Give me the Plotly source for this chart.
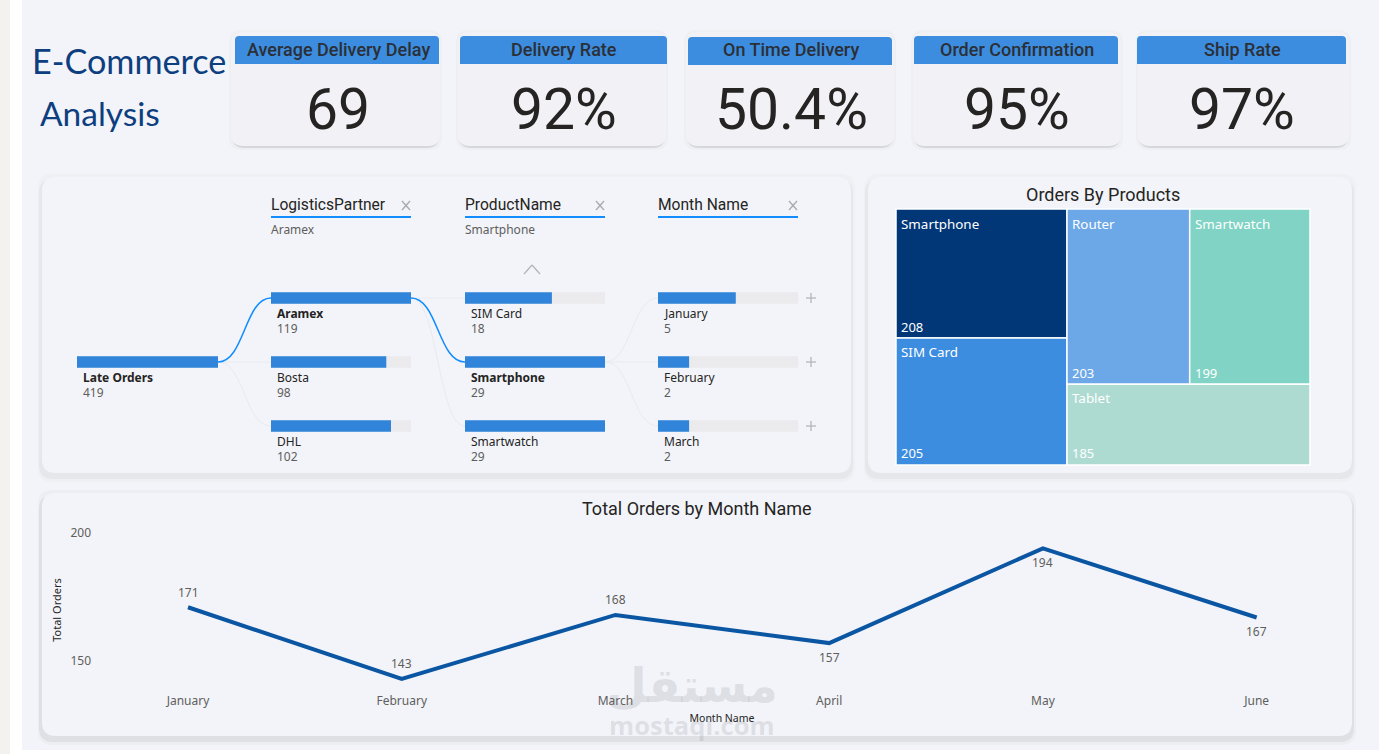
import plotly.graph_objects as go

W, H = 1384, 754

# ---------- data ----------
kpi_titles = ["Average Delivery Delay", "Delivery Rate", "On Time Delivery", "Order Confirmation", "Ship Rate"]
kpi_values = ["69", "92%", "50.4%", "95%", "97%"]

root_label = ["Late Orders"]
root_value = [419]
partner_labels = ["Aramex", "Bosta", "DHL"]
partner_values = [119, 98, 102]
product_labels = ["SIM Card", "Smartphone", "Smartwatch"]
product_values = [18, 29, 29]
month_labels = ["January", "February", "March"]
month_values = [5, 2, 2]
month_scale_max = 9

tree_labels = ["Smartphone", "SIM Card", "Router", "Smartwatch", "Tablet"]
tree_values = [208, 205, 203, 199, 185]
tree_colors = ["#023777", "#3c8ddf", "#6ca8e8", "#81d3c5", "#aedbd1"]

line_months = ["January", "February", "March", "April", "May", "June"]
line_orders = [171, 143, 168, 157, 194, 167]
line_label_side = [1, 1, 1, -1, -1, -1]

# ---------- helpers ----------
DIN = "Roboto"
SEGOE = "Noto Sans"
BLUE = "#3084d9"
TRACK = "#ebebee"
LINK_ON = "#118dff"
LINK_OFF = "#e9eaee"


def px(x):
    return x / W


def py(y):
    return 1 - y / H


def xdom(a, b):
    return [px(a), px(b)]


def ydom(top, bottom):
    return [py(bottom), py(top)]


def rrect(x0, y0, x1, y1, r, fill, bottom_round=True):
    rb = r if bottom_round else 0
    d = (f"M{px(x0 + r)},{py(y0)} L{px(x1 - r)},{py(y0)} Q{px(x1)},{py(y0)} {px(x1)},{py(y0 + r)} "
         f"L{px(x1)},{py(y1 - rb)} Q{px(x1)},{py(y1)} {px(x1 - rb)},{py(y1)} "
         f"L{px(x0 + rb)},{py(y1)} Q{px(x0)},{py(y1)} {px(x0)},{py(y1 - rb)} "
         f"L{px(x0)},{py(y0 + r)} Q{px(x0)},{py(y0)} {px(x0 + r)},{py(y0)} Z")
    return dict(type="path", xref="paper", yref="paper", path=d, fillcolor=fill,
                line=dict(width=0), layer="below")


def rect(x0, y0, x1, y1, fill):
    return dict(type="rect", xref="paper", yref="paper", x0=px(x0), x1=px(x1), y0=py(y0), y1=py(y1),
                fillcolor=fill, line=dict(width=0), layer="below")


def segment(x0, y0, x1, y1, color, width):
    return dict(type="line", xref="paper", yref="paper", x0=px(x0), x1=px(x1), y0=py(y0), y1=py(y1),
                line=dict(color=color, width=width), layer="below")


def curve(x0, y0, x1, y1, color, width):
    xm = (x0 + x1) / 2
    d = f"M{px(x0)},{py(y0)} C{px(xm)},{py(y0)} {px(xm)},{py(y1)} {px(x1)},{py(y1)}"
    return dict(type="path", xref="paper", yref="paper", path=d, line=dict(color=color, width=width), layer="below")


def note(x, y, text, size, color, family=SEGOE, xanchor="center", yanchor="middle", weight=None, **kw):
    font = dict(size=size, color=color, family=family)
    if weight:
        font["weight"] = weight
    return dict(xref="paper", yref="paper", x=px(x), y=py(y), text=text, showarrow=False, font=font,
                xanchor=xanchor, yanchor=yanchor, borderpad=0, **kw)


shapes = []
annotations = []

# ---------- page chrome ----------
shapes.append(rect(0, 0, W, H, "#ffffff"))
shapes.append(rect(0, 0, 10, H, "#f4f2ee"))
shapes.append(rect(22, 0, 1379, 750, "#f3f4f9"))

# ---------- title ----------
annotations.append(note(31, 61, "E-Commerce", 34.2, "#0d3f80", family="Lato", xanchor="left"))
annotations.append(note(39, 113, "Analysis", 33.5, "#0d3f80", family="Lato", xanchor="left"))

# ---------- KPI cards ----------
card_boxes = [(231, 440, 235, 439, 36, 338), (458, 666, 460, 667, 36, 564), (686, 894, 688, 892, 37, 791),
              (913, 1121, 914, 1118, 36, 1017), (1138, 1349, 1137, 1346, 36, 1242)]
for (cx0, cx1, hx0, hx1, hy, cc), ttl, val in zip(card_boxes, kpi_titles, kpi_values):
    shapes.append(rrect(cx0 - 2, 30, cx1 + 2, 150, 13, "#eeeff3"))
    shapes.append(rrect(cx0 + 1, 36, cx1 - 1, 148, 12, "#d6d7da"))
    shapes.append(rrect(cx0, 32, cx1, 146, 12, "#f1f1f6"))
    shapes.append(rrect(hx0, hy, hx1, hy + 28, 4, "#3c8ddf", bottom_round=False))
    annotations.append(note(cc, hy + 13, ttl, 18, "#2b2f36", family=DIN, weight=500))
    annotations.append(note(cc, 109, val, 57, "#252423", family=DIN, weight=400))

# ---------- panels ----------
for x0, y0, x1, y1, soft, hard in [(42, 177, 851, 473, "#eef0f3", "#e6e7eb"),
                                   (868, 177, 1352, 473, "#eef0f3", "#e6e7eb"),
                                   (42, 493, 1352, 736, "#eceef1", "#dfe0e4")]:
    shapes.append(rrect(x0 - 4, y0 - 3, x1 + 4, y1 + 9, 15, soft))
    shapes.append(rrect(x0 - 3, y0 + 2, x1 + 2, y1 + 6, 14, hard))
    shapes.append(rrect(x0, y0, x1, y1, 14, "#f2f4f9"))

# ---------- decomposition tree ----------
columns = [
    (77, 218, root_label, root_value, max(root_value), (330, 394)),
    (271, 411, partner_labels, partner_values, max(partner_values), (266, 458)),
    (465, 605, product_labels, product_values, max(product_values), (266, 458)),
    (658, 798, month_labels, month_values, month_scale_max, (266, 458)),
]
selected = {"Late Orders", "Aramex", "Smartphone"}

fig = go.Figure()
axis_off = dict(visible=False, fixedrange=True, showgrid=False, zeroline=False, automargin=False)
layout_axes = {}
for i, (x0, x1, labels, values, vmax, (t, b)) in enumerate(columns, start=1):
    xa = "x" if i == 1 else f"x{i}"
    ya = "y" if i == 1 else f"y{i}"
    xkey = "xaxis" if i == 1 else f"xaxis{i}"
    ykey = "yaxis" if i == 1 else f"yaxis{i}"
    layout_axes[xkey] = dict(axis_off, domain=xdom(x0, x1), range=[0, vmax], anchor=ya)
    layout_axes[ykey] = dict(axis_off, domain=ydom(t, b), type="category", categoryorder="array",
                             categoryarray=labels, range=[len(labels) - 0.5, -0.5], anchor=xa)
    band = b - t
    w = 11.5 / (band / len(labels))
    fig.add_trace(go.Bar(y=labels, x=[vmax] * len(labels), orientation="h", xaxis=xa, yaxis=ya, width=w,
                         marker=dict(color=TRACK, line=dict(width=0)), hoverinfo="skip", showlegend=False))
    fig.add_trace(go.Bar(y=labels, x=values, orientation="h", xaxis=xa, yaxis=ya, width=w,
                         marker=dict(color=BLUE, line=dict(width=0)), hoverinfo="skip", showlegend=False))
    for lab, val in zip(labels, values):
        bold = lab in selected
        annotations.append(dict(xref=xa, yref=ya, x=0, y=lab, text=f"<b>{lab}</b>" if bold else lab,
                                showarrow=False, xanchor="left", yanchor="middle", xshift=4, yshift=-15,
                                font=dict(size=12, color="#252423", family=SEGOE)))
        annotations.append(dict(xref=xa, yref=ya, x=0, y=lab, text=str(val), showarrow=False,
                                xanchor="left", yanchor="middle", xshift=4, yshift=-30,
                                font=dict(size=12, color="#605e5c", family=SEGOE)))

# connectors
rows = [298, 362, 426]
for y in rows:
    shapes.append(curve(218, 362, 271, y, LINK_OFF, 1))
    shapes.append(curve(411, 298, 465, y, LINK_OFF, 1))
    shapes.append(curve(605, 362, 658, y, LINK_OFF, 1))
shapes.append(curve(218, 362, 271, 298, LINK_ON, 1.5))
shapes.append(curve(411, 298, 465, 362, LINK_ON, 1.5))

# column headers
for (x0, x1, sub), name in zip([(271, 411, "Aramex"), (465, 605, "Smartphone"), (658, 798, "")],
                               ["LogisticsPartner", "ProductName", "Month Name"]):
    annotations.append(note(x0 - 1, 205, name, 15.6, "#252423", family=DIN, xanchor="left", weight=400))
    shapes.append(dict(type="line", xref="paper", yref="paper", x0=px(x0), x1=px(x1), y0=py(217), y1=py(217),
                       line=dict(color=LINK_ON, width=2)))
    shapes.append(segment(x1 - 9, 201, x1 - 1, 210, "#a9a9ad", 1.3))
    shapes.append(segment(x1 - 9, 210, x1 - 1, 201, "#a9a9ad", 1.3))
    if sub:
        annotations.append(note(x0 - 1, 229, sub, 12, "#605e5c", xanchor="left"))
# chevron and expand marks
shapes.append(segment(524, 274, 532, 265, "#b5b5b8", 1.3))
shapes.append(segment(532, 265, 540, 274, "#b5b5b8", 1.3))
for y in rows:
    shapes.append(segment(806, y, 816, y, "#b5b5b8", 1.3))
    shapes.append(segment(811, y - 5, 811, y + 5, "#b5b5b8", 1.3))

# ---------- treemap ----------
annotations.append(note(1103, 194, "Orders By Products", 18, "#252423", family=DIN, weight=400))
fig.add_trace(go.Treemap(
    labels=tree_labels, parents=[""] * len(tree_labels), values=tree_values,
    domain=dict(x=xdom(896, 1310), y=ydom(209, 465)),
    marker=dict(colors=tree_colors, line=dict(color="#ffffff", width=1.5), pad=dict(t=0, l=0, r=0, b=0)),
    tiling=dict(packing="squarify", pad=0),
    pathbar=dict(visible=False), root=dict(color="rgba(0,0,0,0)"),
    textinfo="none", hoverinfo="skip", sort=True,
))
label_spots = {"Smartphone": (900, 224), "SIM Card": (900, 352), "Router": (1071, 224),
               "Smartwatch": (1194, 224), "Tablet": (1071, 398)}
value_spots = {"Smartphone": (900, 327), "SIM Card": (900, 453), "Router": (1071, 373),
               "Smartwatch": (1194, 373), "Tablet": (1071, 453)}
for lab, val in zip(tree_labels, tree_values):
    lx, ly = label_spots[lab]
    annotations.append(note(lx, ly, lab, 13.4, "#ffffff", xanchor="left"))
    vx, vy = value_spots[lab]
    annotations.append(note(vx, vy, str(val), 13, "#ffffff", xanchor="left"))

# ---------- line chart ----------
annotations.append(note(697, 509, "Total Orders by Month Name", 18, "#252423", family=DIN, weight=400))
fig.add_trace(go.Scatter(
    x=line_months, y=line_orders, mode="lines",
    line=dict(color="#0b56a3", width=4), xaxis="x5", yaxis="y5", hoverinfo="skip", showlegend=False, cliponaxis=False,
))
for m, v, side in zip(line_months, line_orders, line_label_side):
    annotations.append(dict(xref="x5", yref="y5", x=m, y=v, text=str(v), showarrow=False,
                            yshift=15 * side if side > 0 else 14 * side,
                            font=dict(size=12, color="#605e5c", family=SEGOE)))
layout_axes["xaxis5"] = dict(
    domain=xdom(104, 1340), type="category", categoryorder="array", categoryarray=line_months,
    range=[-0.393, 5.39], anchor="y5", showgrid=False, zeroline=False, showline=False, ticks="",
    tickfont=dict(size=12, color="#605e5c", family=SEGOE), fixedrange=True, ticklabelstandoff=2, automargin=False,
    title=dict(text="Month Name", font=dict(size=10.5, color="#252423", family=SEGOE), standoff=6),
)
layout_axes["yaxis5"] = dict(
    domain=ydom(530, 690), range=[138.67, 201.17], tickvals=[150, 200], anchor="x5",
    showgrid=False, zeroline=False, showline=False, ticks="", fixedrange=True, automargin=False,
    tickfont=dict(size=12, color="#605e5c", family=SEGOE), ticklabelstandoff=12,
    title=dict(text="Total Orders", font=dict(size=11, color="#252423", family=SEGOE), standoff=6),
)

# ---------- watermark ----------
annotations.append(note(692, 685, "<b>مستقل</b>", 47, "rgba(110,110,115,0.17)", family="DejaVu Sans"))
annotations.append(note(692, 725, "<b>mostaqi.com</b>", 25.6, "rgba(110,110,115,0.17)", family="Open Sans"))

fig.update_layout(
    width=W, height=H, autosize=False, margin=dict(l=0, r=0, t=0, b=0, pad=0, autoexpand=False),
    paper_bgcolor="#ffffff", plot_bgcolor="rgba(0,0,0,0)", barmode="overlay", showlegend=False,
    shapes=shapes, annotations=annotations, hovermode=False, **layout_axes,
)
fig.write_html("out.html", config=dict(displayModeBar=False),
               post_script="document.body.style.margin='0';document.body.style.overflow='hidden';")
